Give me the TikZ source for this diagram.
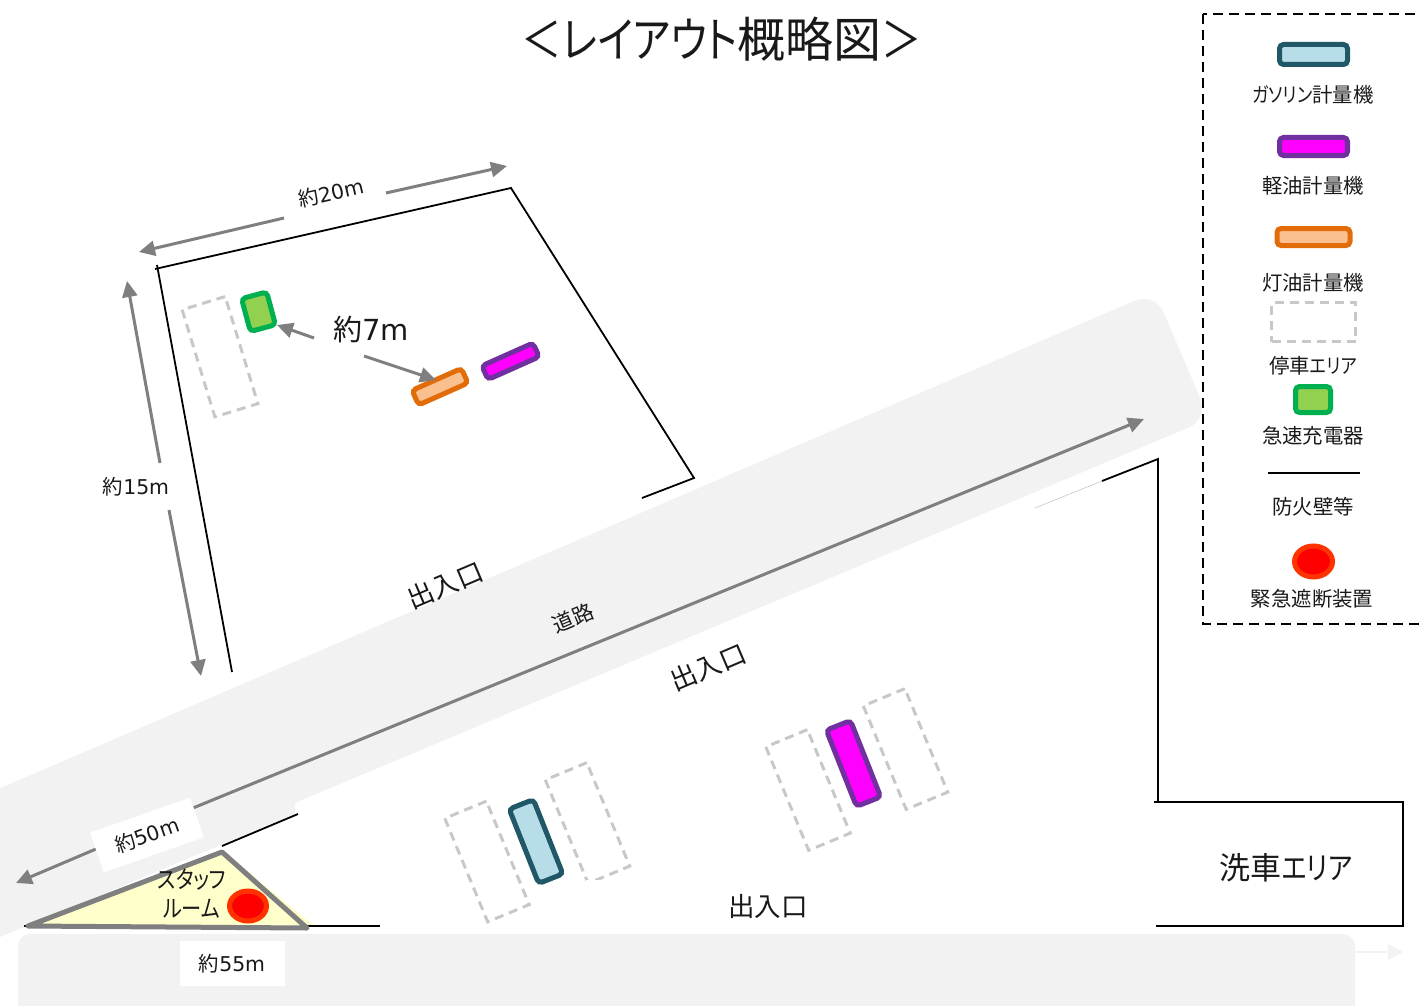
\documentclass[tikz,border=0pt]{standalone}
\usepackage{fontspec}
\setmainfont[RawFeature=+palt]{Noto Sans CJK JP}
\newfontfamily\latinf{DejaVu Sans}
\newfontfamily\kn[RawFeature=+palt,FakeStretch=0.84]{Noto Sans CJK JP}
\usetikzlibrary{arrows.meta,shapes.geometric}
\definecolor{roadc}{HTML}{F2F2F2}
\definecolor{arrowc}{HTML}{7F7F7F}
\definecolor{parkc}{HTML}{C8C8C8}
\definecolor{gasf}{HTML}{B7DDE8}
\definecolor{gasd}{HTML}{215868}
\definecolor{oilf}{HTML}{FF00FF}
\definecolor{oild}{HTML}{7030A0}
\definecolor{kerf}{HTML}{FAC090}
\definecolor{kerd}{HTML}{E36C0A}
\definecolor{chgf}{HTML}{92D050}
\definecolor{chgd}{HTML}{00B050}
\definecolor{stafff}{HTML}{FFFFCC}
\definecolor{estopd}{HTML}{FF3300}
\newcommand{\fs}[1]{\fontsize{#1}{#1}\selectfont}
\tikzset{
  unit/.style={rounded corners=4, line width=5, inner sep=0, outer sep=0},
  gasbox/.style={unit, draw=gasd, fill=gasf},
  oilbox/.style={unit, draw=oild, fill=oilf},
  kerbox/.style={unit, draw=kerd, fill=kerf},
  chgbox/.style={unit, draw=chgd, fill=chgf},
  parkbox/.style={draw=parkc, line width=3, dash pattern=on 9 off 6, inner sep=0, outer sep=0, minimum width=45, minimum height=112},
  estop/.style={ellipse, draw=estopd, fill=red, line width=5, inner sep=0, outer sep=0},
  wall/.style={draw=black, line width=1.8},
  dim/.style={draw=arrowc, line width=3, -{Triangle[length=16,width=15]}},
  staffwall/.style={draw=arrowc, line width=5, line join=round},
  lbl/.style={inner sep=0, outer sep=0, text=black!90, align=center, font=\fs{20.4}},
  dimbox/.style={fill=white, inner sep=0, outer sep=0},
}
\begin{document}
\begin{tikzpicture}[x=1pt,y=-1pt]
\useasboundingbox (0,0) rectangle (1421,1006);
% roads
\fill[roadc, rounded corners=22] (-60,814) -- (1155,292) -- (1209,419) -- (-60,952) -- cycle;
\fill[roadc] (295,803) -- (295,814) -- (-60,962) -- (-60,952) -- cycle;
\fill[roadc, rounded corners=12] (18,934) rectangle (1355,1030);
\coordinate (lightA) at (1355,952);
\coordinate (lightB) at (1403,952);
\draw[draw=roadc, line width=2.6, -{Triangle[length=15,width=15]}] (lightA) -- (lightB);
% staff room
\fill[stafff] (30,925) -- (222,850) -- (313,925) -- cycle;
% site walls
\coordinate (s1) at (155,269);
\coordinate (s2) at (511,188);
\coordinate (s3) at (694,478);
\coordinate (s4) at (642,498);
\coordinate (s5) at (157,265);
\coordinate (s6) at (232,672);
\draw[wall] (s1) -- (s2) -- (s3) -- (s4);
\draw[wall] (s5) -- (s6);
\coordinate (r1) at (1102,481);
\coordinate (r2) at (1158,459);
\coordinate (r3) at (1158,802);
\coordinate (r0) at (1035,508);
\draw[wall] (r1) -- (r2) -- (r3);
\draw[draw=gray!60, line width=0.4] (r0) -- (r1);
\coordinate (w1) at (1154,802);
\coordinate (w2) at (1403,802);
\coordinate (w3) at (1403,926);
\coordinate (w4) at (1156,926);
\draw[wall] (w1) -- (w2) -- (w3) -- (w4);
\coordinate (t1) at (222,846);
\coordinate (t2) at (298,814);
\coordinate (t3) at (307,926);
\coordinate (t4) at (380,926);
\coordinate (t5) at (24,926);
\coordinate (t6) at (28,926);
\draw[wall] (t1) -- (t2);
\draw[wall] (t3) -- (t4);
\draw[wall] (t5) -- (t6);
% staff room outline
\coordinate (k1) at (28,926);
\coordinate (k2) at (222,852);
\coordinate (k3) at (307,928);
\draw[staffwall] (k1) -- (k2) -- (k3) -- cycle;
\node[estop, minimum width=37, minimum height=30] (stopA) at (248,906) {};
\node[lbl, font=\fs{24}] (staffA) at (192,880) {\kn スタッフ};
\node[lbl, font=\fs{24}] (staffB) at (191.5,909) {\kn ルーム};
% road arrow
\coordinate (ra) at (193,808);
\coordinate (rb) at (1144,419);
\draw[dim] (ra) -- (rb);
\coordinate (ra2) at (96,849);
\coordinate (rb2) at (16,883);
\draw[dim] (ra2) -- (rb2);
% dimension arrows
\coordinate (a1) at (284,218);
\coordinate (a2) at (139,252);
\coordinate (a3) at (386,193);
\coordinate (a4) at (507,166);
\draw[dim] (a1) -- (a2);
\draw[dim] (a3) -- (a4);
\coordinate (b1) at (160,463);
\coordinate (b2) at (127,281);
\coordinate (b3) at (169,510);
\coordinate (b4) at (201,676);
\draw[dim] (b1) -- (b2);
\draw[dim] (b3) -- (b4);
\coordinate (c1) at (314,338);
\coordinate (c2) at (277,325);
\coordinate (c3) at (364,356);
\coordinate (c4) at (436,380);
% parking
\node[parkbox, rotate=17] (p0) at (220,356.7) {};
\node[parkbox, rotate=22.5] (p1) at (487,861.5) {};
\node[parkbox, rotate=22.5] (p2) at (587.5,823) {};
\fill[white] (586,880) rectangle (600,888);
\node[parkbox, rotate=22.5] (p3) at (808,790) {};
\node[parkbox, rotate=22.5] (p4) at (905.5,749) {};
% site units
\node[chgbox, rotate=15, minimum width=26, minimum height=34] (u1) at (258.5,311.7) {};
\node[kerbox, rotate=24, minimum width=54, minimum height=16] (u2) at (440,386.7) {};
\node[oilbox, rotate=24, minimum width=56, minimum height=15] (u3) at (510.5,361.3) {};
\node[gasbox, rotate=21.6, minimum width=26, minimum height=80] (u4) at (536,841.5) {};
\node[oilbox, rotate=21.6, minimum width=26, minimum height=82] (u5) at (853.5,763.5) {};
\draw[dim] (c1) -- (c2);
\draw[dim] (c3) -- (c4);
% labels with white boxes
\node[dimbox, rotate=19.3, minimum width=106, minimum height=42] (bx50) at (147,835) {};
\node[lbl, rotate=19.3] (t50) at (147,835) {約{\latinf 50m}};
\node[dimbox, minimum width=105, minimum height=45] (bx55) at (232.5,963.5) {};
\node[lbl] (t55) at (232,964) {約{\latinf 55m}};
\node[lbl, rotate=13] (t20) at (331,193) {約{\latinf 20m}};
\node[lbl] (t15) at (136,487) {約{\latinf 15m}};
\node[lbl, font=\fs{29}] (t7) at (371,329) {約{\latinf 7m}};
% title and area labels
\node[lbl, font=\fs{48}] (title) at (722,39) {{\kn ＜レイアウト}概略図{\kn ＞}};
\node[lbl, rotate=23, font=\fs{26.5}] (g1) at (445,585) {出入口};
\node[lbl, rotate=23, font=\fs{26.5}] (g2) at (708,667) {出入口};
\node[lbl, font=\fs{26.5}] (g3) at (768,906) {出入口};
\node[lbl, rotate=23, font=\fs{21}] (rd) at (573,618) {道路};
\node[lbl, font=\fs{31}] (wash) at (1286,868) {洗車{\kn エリア}};
% legend
\coordinate (lg1) at (1203,14);
\coordinate (lg2) at (1435,624);
\draw[draw=black, line width=2.7, dash pattern=on 10 off 6] (lg1) rectangle (lg2);
\node[gasbox, minimum width=68, minimum height=20] (l1) at (1313.5,54.5) {};
\node[lbl] (lt1) at (1313,94.5) {{\kn ガソリン}計量機};
\node[oilbox, minimum width=68, minimum height=18] (l2) at (1313.5,146.5) {};
\node[lbl] (lt2) at (1313,185.5) {軽油計量機};
\node[kerbox, minimum width=73, minimum height=17] (l3) at (1313.5,237) {};
\node[lbl] (lt3) at (1313,282.5) {灯油計量機};
\node[parkbox, minimum width=84, minimum height=39] (l4) at (1313.5,322) {};
\node[lbl] (lt4) at (1313,365.5) {停車{\kn エリア}};
\node[chgbox, minimum width=35, minimum height=26] (l5) at (1313,399.5) {};
\node[lbl] (lt5) at (1313,435.5) {急速充電器};
\coordinate (f1) at (1268,473);
\coordinate (f2) at (1360,473);
\draw[wall] (f1) -- (f2);
\node[lbl] (lt6) at (1313,506.5) {防火壁等};
\node[estop, minimum width=38, minimum height=31] (l7) at (1313.5,561.5) {};
\node[lbl] (lt7) at (1312,598.5) {緊急遮断装置};
\end{tikzpicture}
\end{document}
